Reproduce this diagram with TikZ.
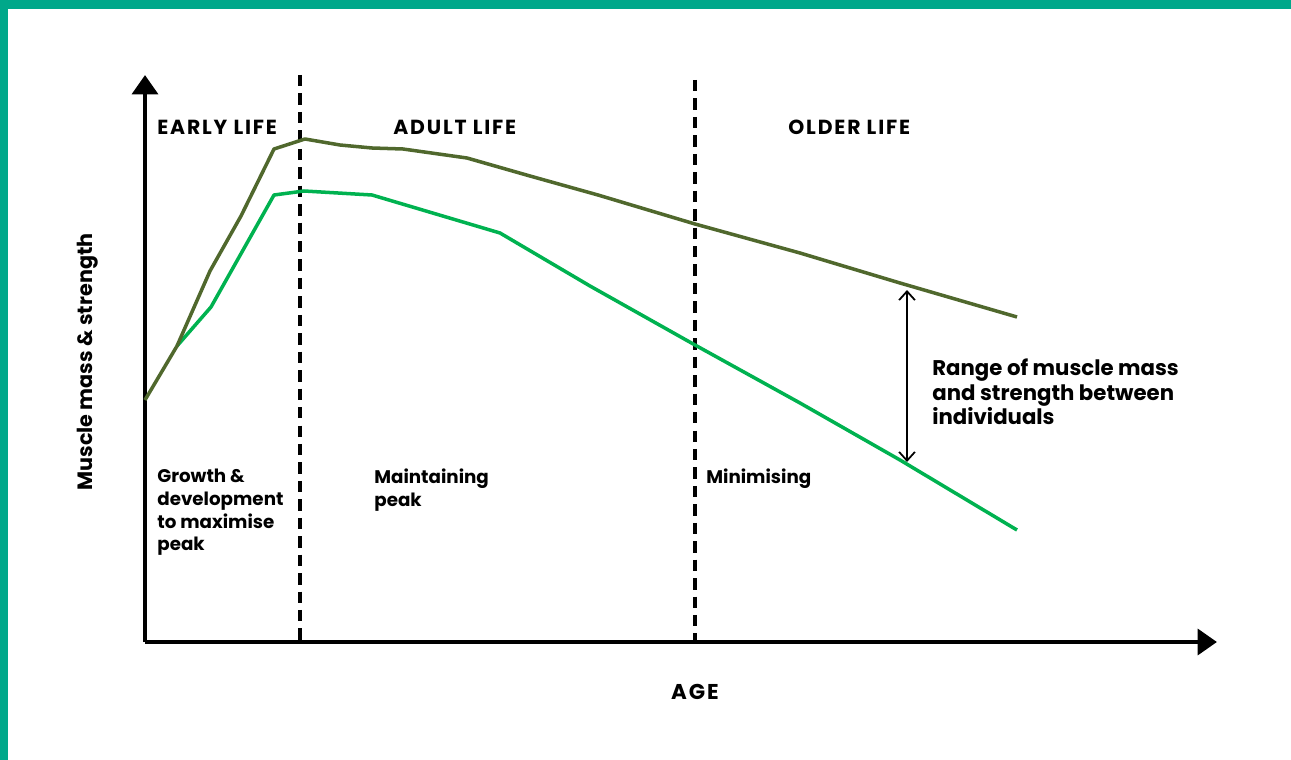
\documentclass[tikz,border=0pt]{standalone}
\usepackage{fontspec}
\setmainfont{Poppins}
\newfontfamily\capsfont[LetterSpace=9]{Poppins}
\usetikzlibrary{arrows.meta}

\definecolor{frame}{RGB}{0,168,138}
\definecolor{darkline}{RGB}{80,104,45}
\definecolor{lightline}{RGB}{0,178,80}

\tikzset{
  axis/.style={line width=2.8pt, -{Triangle[length=11pt, width=14.5pt]}},
  divider/.style={line width=2pt, dash pattern=on 6.5pt off 4pt},
  curve/.style={line width=2pt, line join=round},
  phase/.style={font=\capsfont\bfseries\fontsize{11.6}{13}\selectfont, inner sep=0pt},
  note/.style={font=\bfseries\fontsize{10.4}{12.9}\selectfont, align=left, inner sep=0pt},
}

\begin{document}
\begin{tikzpicture}[x=0.02cm, y=-0.02cm]
\useasboundingbox (0,0) rectangle (1291,760);
\fill[frame] (0,0) rectangle (1291,9);
\fill[frame] (0,0) rectangle (8,760);

\coordinate (o) at (145,642);
\coordinate (ytip) at (145,75);
\coordinate (xtip) at (1217,642);
\draw[axis] (o) -- (ytip);
\draw[axis] (145,642) -- (xtip);

\coordinate (d1top) at (300,75);
\coordinate (d1bot) at (300,642);
\coordinate (d2top) at (695,80);
\coordinate (d2bot) at (695,642);
\draw[divider] (d1top) -- (d1bot);
\draw[divider] (d2top) -- (d2bot);

\draw[curve, lightline] (177,346) -- (211,307) -- (274,195) -- (304,191) -- (372,195)
  -- (500,233) -- (590,286) -- (695,345) -- (800,403) -- (900,460) -- (1017,530);
\draw[curve, darkline] (145,400) -- (177,346) -- (210,271) -- (241,216) -- (274,149)
  -- (305,139) -- (340,145) -- (372,148) -- (403,149) -- (467,158) -- (530,176)
  -- (598,195) -- (695,224) -- (800,253) -- (900,283) -- (1017,317);

\coordinate (rtop) at (907,290);
\coordinate (rbot) at (907,462);
\draw[line width=1pt, {Straight Barb[length=5pt, width=9pt]}-{Straight Barb[length=5pt, width=9pt]}] (rtop) -- (rbot);

\node[phase, anchor=west] (early) at (157,127) {EARLY LIFE};
\node[phase, anchor=west] (adult) at (393,127) {ADULT LIFE};
\node[phase, anchor=west] (older) at (788,127) {OLDER LIFE};

\node[note, anchor=north west] (growth) at (157,469) {Growth \&\\development\\to maximise\\peak};
\node[note, anchor=north west] (maintain) at (374,469) {Maintaining\\peak};
\node[note, anchor=north west] (minimise) at (706,469) {Minimising};

\node[note, font=\bfseries\fontsize{12.1}{13.9}\selectfont, anchor=west] (range) at (932,392) {Range of muscle mass\\and strength between\\individuals};

\node[phase, font=\capsfont\bfseries\fontsize{12.2}{13}\selectfont] (age) at (695,692) {AGE};
\node[phase, font=\bfseries\fontsize{11.8}{13}\selectfont, rotate=90] (ylabel) at (88,362) {Muscle mass \& strength};
\end{tikzpicture}
\end{document}
